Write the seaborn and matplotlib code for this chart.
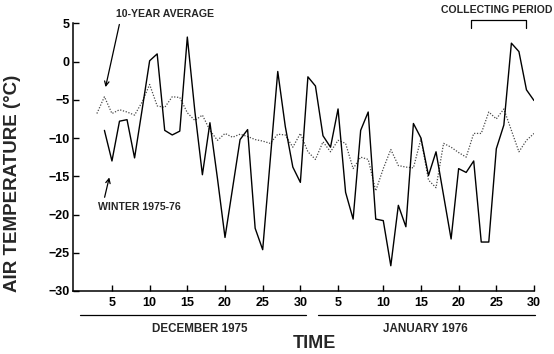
import matplotlib
matplotlib.use("Agg")
import matplotlib.pyplot as plt
import seaborn as sns
import pandas as pd

# ---- data (day index: Dec 1 = 1 ... Dec 31 = 31, Jan 1 = 32 ... Jan 30 = 61)
winter_days = list(range(4, 62))
winter_temp = [-9.0, -13.0, -7.8, -7.6, -12.6, -6.3, 0.1, 1.0, -9.0, -9.6,
               -9.1, 3.2, -6.5, -14.8, -8.0, -15.3, -23.0, -16.6, -10.2, -8.9,
               -21.8, -24.6, -12.9, -1.3, -8.5, -13.8, -15.8, -2.0, -3.2, -9.7,
               -11.2, -6.2, -17.1, -20.6, -9.0, -6.6, -20.6, -20.8, -26.7, -18.8,
               -21.6, -8.1, -10.0, -14.9, -11.8, -17.5, -23.2, -14.0, -14.5, -13.0,
               -23.6, -23.6, -11.4, -8.3, 2.4, 1.3, -3.7, -5.1]

avg_days = list(range(3, 62))
avg_temp = [-6.8, -4.6, -6.8, -6.3, -6.6, -7.0, -5.3, -3.0, -5.8, -6.0,
            -4.6, -4.7, -6.7, -7.7, -7.0, -9.0, -10.3, -9.4, -9.9, -9.5,
            -9.8, -10.2, -10.4, -10.7, -9.5, -9.6, -11.2, -9.4, -11.8, -12.8,
            -10.5, -11.8, -10.3, -10.7, -14.0, -12.5, -12.8, -16.9, -14.0, -11.5,
            -13.6, -13.8, -13.9, -10.1, -15.5, -16.5, -10.7, -11.2, -11.9, -12.5,
            -9.4, -9.4, -6.6, -7.5, -6.2, -9.0, -11.8, -10.3, -9.4]

tick_days = [5, 10, 15, 20, 25, 30, 35, 41, 46, 51, 56, 61]
tick_labels = ["5", "10", "15", "20", "25", "30", "5", "10", "15", "20", "25", "30"]
y_ticks = [5, 0, -5, -10, -15, -20, -25, -30]

winter_df = pd.DataFrame({"day": winter_days, "temp": winter_temp})
avg_df = pd.DataFrame({"day": avg_days, "temp": avg_temp})

sns.set_style("ticks")
plt.rcParams["font.family"] = ["Liberation Sans", "DejaVu Sans"]
plt.rcParams["font.weight"] = "bold"

fig = plt.figure(figsize=(5.54, 3.54), dpi=100)
ax = fig.add_axes([0.1323, 0.178, 0.8316, 0.7562])

sns.lineplot(data=avg_df, x="day", y="temp", ax=ax, color="#4a4a4a",
             linewidth=0.9, linestyle=(0, (1, 1.3)))
sns.lineplot(data=winter_df, x="day", y="temp", ax=ax, color="black",
             linewidth=1.0)

ax.set_xlim(-0.13, 61.0)
ax.set_ylim(-30, 5)
ax.set_xticks(tick_days)
ax.set_xticklabels(tick_labels)
ax.set_yticks(y_ticks)
ax.set_yticklabels([str(v) if v >= 0 else "\u2212" + str(-v) for v in y_ticks])
ax.tick_params(axis="both", direction="in", length=4.5, width=1.0,
               labelsize=9, colors="black")
ax.tick_params(axis="x", pad=4)
ax.tick_params(axis="y", pad=2.5)
for lab in ax.get_xticklabels() + ax.get_yticklabels():
    lab.set_fontweight("bold")
sns.despine(ax=ax)
for s in ("left", "bottom"):
    ax.spines[s].set_linewidth(1.1)
    ax.spines[s].set_color("black")

ax.set_xlabel("")
ax.set_ylabel("")
ax.text(-0.131, 0.403, "AIR TEMPERATURE (\u00b0C)", transform=ax.transAxes,
        rotation=90, ha="center", va="center", fontsize=13.5, fontweight="bold")
ax.text(0.5225, -0.195, "TIME", transform=ax.transAxes, ha="center",
        va="center", fontsize=13, fontweight="bold")

# month underlines and names
ax.plot([0.7, 30.7], [-33.2, -33.2], color="black", lw=0.9, clip_on=False)
ax.plot([32.3, 61.1], [-33.2, -33.2], color="black", lw=0.9, clip_on=False)
ax.text(16.7, -35.0, "DECEMBER 1975", ha="center", va="center", fontsize=8.4,
        fontweight="bold", clip_on=False)
ax.text(46.6, -35.0, "JANUARY 1976", ha="center", va="center", fontsize=8.4,
        fontweight="bold", clip_on=False)

# annotations
ax.text(12.1, 6.2, "10-YEAR AVERAGE", ha="center", va="center", fontsize=7.6,
        fontweight="bold", clip_on=False)
ax.annotate("", xy=(4.07, -3.7), xytext=(6.06, 5.2),
            arrowprops=dict(arrowstyle="->", color="black", lw=0.9,
                            mutation_scale=8), annotation_clip=False)
ax.text(8.67, -19.0, "WINTER 1975-76", ha="center", va="center", fontsize=7.6,
        fontweight="bold", clip_on=False)
ax.annotate("", xy=(4.73, -14.8), xytext=(3.94, -18.1),
            arrowprops=dict(arrowstyle="->", color="black", lw=0.9,
                            mutation_scale=8), annotation_clip=False)
ax.text(56.1, 6.74, "COLLECTING PERIOD", ha="center", va="center",
        fontsize=7.6, fontweight="bold", clip_on=False)
ax.plot([52.6, 52.6, 60.0, 60.0], [4.35, 5.43, 5.43, 4.35], color="black",
        lw=0.9, clip_on=False)

fig.savefig("out.png", dpi=100)
